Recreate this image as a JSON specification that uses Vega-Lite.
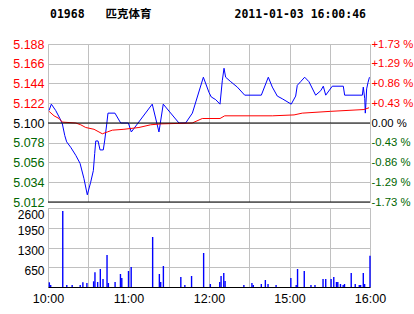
{
  "$schema": "https://vega.github.io/schema/vega-lite/v6.json",
  "background": "white",
  "padding": {"left": 12, "top": 8, "right": 0, "bottom": 0},
  "bounds": "flush",
  "config": {
    "view": {"stroke": "#c0c0c0"},
    "axis": {"labelFont": "Liberation Sans", "labelFontSize": 12.5, "gridColor": "#c0c0c0", "gridOpacity": 1, "domain": false, "ticks": false, "title": null, "labelOverlap": false, "labelFlush": false}
  },
  "spacing": 6,
  "vconcat": [
    {
      "width": 322,
      "height": 158,
      "title": {"text": "01968\u00a0\u00a0\u00a0匹克体育\u00a0\u00a0\u00a0\u00a0\u00a0\u00a0\u00a0\u00a0\u00a0\u00a0\u00a0\u00a02011-01-03 16:00:46", "anchor": "start", "frame": "group", "dx": 2, "font": "DejaVu Sans Mono, Noto Sans CJK SC", "fontSize": 11.5, "fontWeight": "bold", "color": "#000000", "offset": 18},
      "layer": [
        {
          "data": {"values": [
            {"m":0.8,"p":5.114},{"m":2.5,"p":5.121},{"m":5.7,"p":5.114},{"m":8.9,"p":5.105},{"m":10.7,"p":5.099},{"m":12.5,"p":5.086},{"m":13.9,"p":5.079},{"m":16.9,"p":5.073},{"m":20.7,"p":5.064},{"m":23.9,"p":5.055},{"m":26.8,"p":5.038},{"m":29.3,"p":5.020},{"m":31.8,"p":5.034},{"m":33.8,"p":5.047},{"m":34.8,"p":5.066},{"m":35.6,"p":5.080},{"m":37.3,"p":5.080},{"m":38.8,"p":5.070},{"m":41.2,"p":5.070},{"m":42.3,"p":5.081},{"m":43.8,"p":5.099},{"m":44.7,"p":5.111},{"m":49.9,"p":5.111},{"m":54.2,"p":5.100},{"m":59.9,"p":5.100},{"m":62.1,"p":5.090},{"m":77.7,"p":5.121},{"m":82.7,"p":5.090},{"m":85.9,"p":5.121},{"m":97.6,"p":5.100},{"m":102.6,"p":5.100},{"m":107.6,"p":5.111},{"m":115.8,"p":5.151},{"m":120.0,"p":5.134},{"m":121.7,"p":5.129},{"m":125.0,"p":5.126},{"m":128.2,"p":5.121},{"m":129.9,"p":5.147},{"m":131.2,"p":5.161},{"m":132.4,"p":5.151},{"m":136.2,"p":5.146},{"m":141.1,"p":5.140},{"m":146.6,"p":5.131},{"m":159.0,"p":5.131},{"m":164.2,"p":5.151},{"m":167.2,"p":5.140},{"m":170.9,"p":5.130},{"m":174.6,"p":5.127},{"m":181.3,"p":5.121},{"m":184.6,"p":5.130},{"m":185.8,"p":5.142},{"m":188.3,"p":5.146},{"m":191.3,"p":5.151},{"m":194.5,"p":5.146},{"m":199.5,"p":5.131},{"m":203.3,"p":5.136},{"m":205.2,"p":5.141},{"m":207.0,"p":5.131},{"m":211.9,"p":5.141},{"m":220.1,"p":5.141},{"m":221.1,"p":5.131},{"m":234.3,"p":5.131},{"m":235.0,"p":5.140},{"m":236.1,"p":5.127},{"m":236.5,"p":5.111},{"m":237.0,"p":5.123},{"m":237.5,"p":5.138},{"m":238.5,"p":5.145},{"m":239.6,"p":5.151}
          ]},
          "mark": {"type": "line", "color": "#0000ff", "strokeWidth": 1},
          "encoding": {
            "x": {"field": "m", "type": "quantitative", "scale": {"domain": [0, 240], "nice": false}, "axis": {"values": [0,30,60,90,120,150,180,210,240], "labels": false, "grid": true}},
            "y": {"field": "p", "type": "quantitative", "scale": {"domain": [5.012, 5.188], "nice": false, "zero": false},
                  "axis": {"values": [5.012,5.034,5.056,5.078,5.1,5.122,5.144,5.166,5.188], "format": ".3f", "grid": true, "labelPadding": 4,
                           "labelColor": {"condition": [{"test": "datum.value > 5.1005", "value": "#ff0000"}, {"test": "datum.value < 5.0995", "value": "#006600"}], "value": "#000000"}}}
          }
        },
        {
          "data": {"values": [
            {"m":0.8,"p":5.113},{"m":4.5,"p":5.108},{"m":8.2,"p":5.105},{"m":10.7,"p":5.101},{"m":20.7,"p":5.100},{"m":24.4,"p":5.098},{"m":28.1,"p":5.095},{"m":34.3,"p":5.093},{"m":38.0,"p":5.090},{"m":40.5,"p":5.088},{"m":44.2,"p":5.090},{"m":47.9,"p":5.092},{"m":56.6,"p":5.093},{"m":67.8,"p":5.095},{"m":76.5,"p":5.098},{"m":84.0,"p":5.099},{"m":107.5,"p":5.100},{"m":115.0,"p":5.105},{"m":128.2,"p":5.105},{"m":131.7,"p":5.108},{"m":167.2,"p":5.108},{"m":183.4,"p":5.109},{"m":189.5,"p":5.111},{"m":210.7,"p":5.113},{"m":235.5,"p":5.115},{"m":239.3,"p":5.117}
          ]},
          "mark": {"type": "line", "color": "#ff0000", "strokeWidth": 1},
          "encoding": {
            "x": {"field": "m", "type": "quantitative"},
            "y": {"field": "p", "type": "quantitative", "scale": {"domain": [5.012, 5.188], "nice": false, "zero": false},
                  "axis": {"orient": "right", "values": [5.012,5.034,5.056,5.078,5.1,5.122,5.144,5.166,5.188], "grid": false, "labelPadding": 1, "labelFontSize": 11.3,
                           "labelExpr": "(datum.value > 5.1005 ? '+' : (datum.value < 5.0995 ? '-' : '')) + format(abs(datum.value - 5.1) / 5.1 * 100, '.2f') + ' %'",
                           "labelColor": {"condition": [{"test": "datum.value > 5.1005", "value": "#ff0000"}, {"test": "datum.value < 5.0995", "value": "#006600"}], "value": "#000000"}}}
          }
        },
        {
          "data": {"values": [{"p": 5.1}, {"p": 5.012}]},
          "mark": {"type": "rule", "color": "#000000", "strokeWidth": 1},
          "encoding": {
            "y": {"field": "p", "type": "quantitative", "scale": {"domain": [5.012, 5.188], "nice": false, "zero": false}, "axis": null}
          }
        }
      ],
      "resolve": {"scale": {"y": "independent"}}
    },
    {
      "width": 322,
      "height": 79,
      "data": {"values": [
        {"m":1,"v":155},{"m":2,"v":66},{"m":11,"v":2500},{"m":14,"v":66},{"m":18,"v":66},{"m":24,"v":66},{"m":26,"v":155},{"m":29,"v":130},{"m":34,"v":187},{"m":35,"v":483},{"m":37,"v":165},{"m":39,"v":592},{"m":41,"v":263},{"m":44,"v":1053},{"m":45,"v":132},{"m":50,"v":165},{"m":54,"v":428},{"m":55,"v":296},{"m":60,"v":527},{"m":62,"v":658},{"m":78,"v":1645},{"m":83,"v":428},{"m":84,"v":165},{"m":86,"v":691},{"m":99,"v":329},{"m":102,"v":66},{"m":107,"v":362},{"m":116,"v":1119},{"m":121,"v":99},{"m":128,"v":165},{"m":129,"v":362},{"m":131,"v":461},{"m":132,"v":197},{"m":146,"v":66},{"m":152,"v":132},{"m":153,"v":66},{"m":159,"v":99},{"m":162,"v":230},{"m":164,"v":99},{"m":170,"v":66},{"m":181,"v":296},{"m":185,"v":66},{"m":186,"v":592},{"m":191,"v":527},{"m":196,"v":66},{"m":199,"v":66},{"m":205,"v":263},{"m":207,"v":263},{"m":211,"v":263},{"m":213,"v":329},{"m":215,"v":165},{"m":216,"v":165},{"m":218,"v":99},{"m":220,"v":66},{"m":221,"v":99},{"m":226,"v":461},{"m":229,"v":99},{"m":232,"v":66},{"m":233,"v":66},{"m":235,"v":461},{"m":236,"v":99},{"m":240,"v":1030}
      ]},
      "mark": {"type": "rule", "color": "#0000ff", "strokeWidth": 1.4},
      "encoding": {
        "x": {"field": "m", "type": "quantitative", "scale": {"domain": [0, 240], "nice": false},
              "axis": {"values": [0,30,60,90,120,150,180,210,240], "grid": true, "domain": true, "domainColor": "#000000", "domainWidth": 1, "labelPadding": 5, "labelColor": "#000000",
                       "labelExpr": "datum.value == 0 ? '10:00' : datum.value == 60 ? '11:00' : datum.value == 120 ? '12:00' : datum.value == 180 ? '15:00' : datum.value == 240 ? '16:00' : ''"}},
        "y": {"field": "v", "type": "quantitative", "scale": {"domain": [0, 2600], "nice": false, "zero": true},
              "axis": {"values": [650, 1300, 1950, 2600], "format": "d", "grid": true, "labelPadding": 4, "labelFontSize": 12, "labelColor": "#000000",
                       "labelOffset": {"condition": {"test": "datum.value > 2000", "value": 6}, "value": 3}}},
        "y2": {"datum": 0}
      }
    }
  ]
}
